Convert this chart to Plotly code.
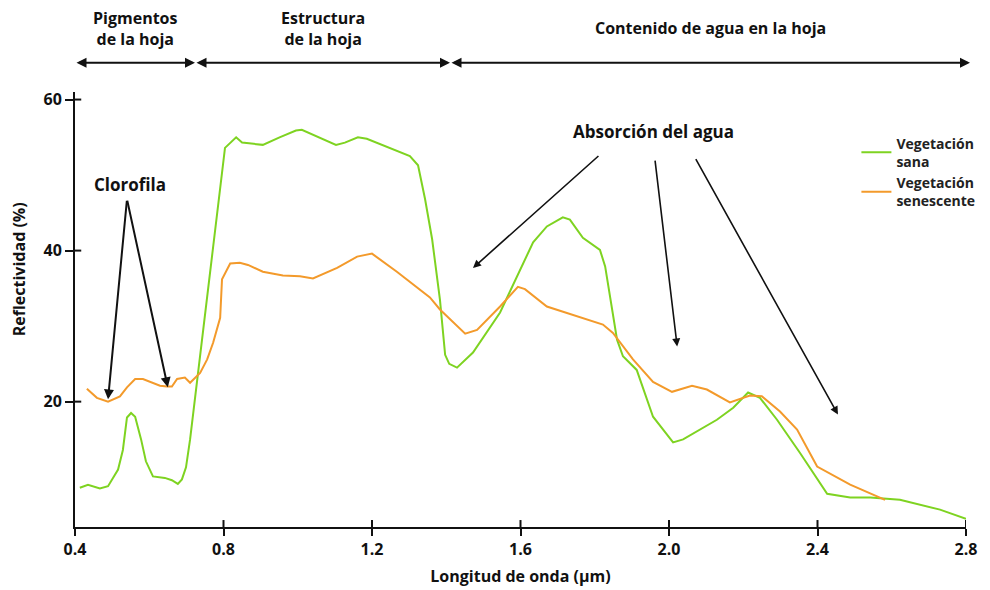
import plotly.graph_objects as go

# Healthy vegetation (Vegetación sana)
sana_x = [0.413, 0.435, 0.467, 0.489, 0.516, 0.529, 0.540, 0.551, 0.562, 0.578, 0.591, 0.610,
          0.642, 0.661, 0.677, 0.688, 0.699, 0.710, 0.804, 0.826, 0.834, 0.850, 0.906, 0.951,
          0.995, 1.011, 1.054, 1.103, 1.127, 1.162, 1.186, 1.235, 1.283, 1.302, 1.324, 1.343,
          1.362, 1.383, 1.397, 1.408, 1.429, 1.472, 1.545, 1.634, 1.671, 1.714, 1.733, 1.768,
          1.814, 1.828, 1.860, 1.876, 1.913, 1.957, 2.011, 2.038, 2.129, 2.173, 2.213, 2.245,
          2.291, 2.353, 2.426, 2.488, 2.542, 2.622, 2.730, 2.800]
sana_y = [8.6, 9.0, 8.5, 8.8, 11.0, 13.6, 17.9, 18.5, 18.0, 15.0, 12.1, 10.1,
          9.9, 9.6, 9.1, 9.7, 11.3, 15.0, 53.6, 54.7, 55.0, 54.3, 54.0, 55.0,
          55.9, 56.0, 55.1, 54.0, 54.3, 55.0, 54.8, 53.8, 52.8, 52.5, 51.3, 46.8,
          41.5, 33.5, 26.2, 25.0, 24.5, 26.5, 31.8, 41.1, 43.2, 44.4, 44.1, 41.7,
          40.1, 37.9, 28.2, 26.0, 24.2, 18.0, 14.6, 15.0, 17.6, 19.2, 21.2, 20.5,
          17.6, 13.2, 7.8, 7.3, 7.3, 7.0, 5.7, 4.5]

# Senescent vegetation (Vegetación senescente)
sen_x = [0.432, 0.459, 0.489, 0.521, 0.540, 0.562, 0.583, 0.607, 0.629, 0.648, 0.661,
         0.675, 0.696, 0.710, 0.737, 0.756, 0.772, 0.791, 0.796, 0.818, 0.844, 0.866,
         0.906, 0.960, 1.006, 1.041, 1.106, 1.160, 1.200, 1.267, 1.356, 1.383, 1.451,
         1.483, 1.545, 1.593, 1.612, 1.671, 1.741, 1.822, 1.849, 1.903, 1.957, 2.008,
         2.062, 2.102, 2.164, 2.218, 2.250, 2.299, 2.345, 2.399, 2.488, 2.582]
sen_y = [21.7, 20.5, 20.0, 20.7, 21.9, 23.0, 23.0, 22.5, 22.1, 22.0, 22.0,
         23.0, 23.2, 22.5, 23.8, 25.6, 27.8, 31.1, 36.2, 38.3, 38.4, 38.1,
         37.2, 36.7, 36.6, 36.3, 37.7, 39.2, 39.6, 37.2, 33.8, 32.2, 29.0,
         29.5, 32.6, 35.2, 34.9, 32.6, 31.5, 30.2, 29.1, 25.6, 22.6, 21.3,
         22.1, 21.6, 19.9, 20.8, 20.7, 18.7, 16.3, 11.4, 9.0, 7.0]

x_ticks = [0.4, 0.8, 1.2, 1.6, 2.0, 2.4, 2.8]
x_tick_labels = ["0.4", "0.8", "1.2", "1.6", "2.0", "2.4", "2.8"]
y_ticks = [20, 40, 60]
y_tick_labels = ["20", "40", "60"]

series_names = ["Vegetación<br>sana", "Vegetación<br>senescente"]
series_colors = ["#7ed321", "#f39a2b"]

region_labels = ["Pigmentos<br>de la hoja", "Estructura<br>de la hoja", "Contenido de agua en la hoja"]
region_bounds = [0.0, 0.1347, 0.4209, 1.0045]  # fraction of x domain

FONT = "Open Sans"

fig = go.Figure()
fig.add_trace(go.Scatter(x=sana_x, y=sana_y, mode="lines", name=series_names[0],
                         line=dict(color=series_colors[0], width=2)))
fig.add_trace(go.Scatter(x=sen_x, y=sen_y, mode="lines", name=series_names[1],
                         line=dict(color=series_colors[1], width=2)))

annotations = []
# Header region labels + double arrows
label_y = [1.147, 1.147, 1.147]
for i, lab in enumerate(region_labels):
    x0, x1 = region_bounds[i], region_bounds[i + 1]
    annotations.append(dict(xref="x domain", yref="y domain", x=(x0 + x1) / 2, y=label_y[i],
                            xanchor="center", yanchor="middle",
                            text="<b>" + lab + "</b>", showarrow=False,
                            font=dict(size=16, color="#111", family=FONT)))
    annotations.append(dict(xref="x domain", yref="y domain", axref="x domain", ayref="y domain",
                            x=x1, y=1.067, ax=x0, ay=1.067, text="", showarrow=True,
                            arrowhead=2, startarrowhead=2, arrowside="end+start",
                            arrowsize=1, arrowwidth=2, arrowcolor="#111"))

# Clorofila
annotations.append(dict(x=0.548, y=48.7, text="<b>Clorofila</b>", showarrow=False,
                        xanchor="center", font=dict(size=17, color="#111", family=FONT)))
for tx, ty in [(0.489, 20.3), (0.650, 21.9)]:
    annotations.append(dict(x=tx, y=ty, ax=0.540, ay=46.8, xref="x", yref="y", axref="x", ayref="y",
                            text="", showarrow=True, arrowhead=2, arrowsize=1, arrowwidth=2,
                            arrowcolor="#111"))

# Absorción del agua
annotations.append(dict(x=1.957, y=55.8, text="<b>Absorción del agua</b>", showarrow=False,
                        xanchor="center", font=dict(size=17, color="#111", family=FONT)))
for (tx, ty), (sx, sy) in [((1.472, 37.7), (1.814, 52.7)),
                           ((2.022, 27.3), (1.962, 52.1)),
                           ((2.455, 18.3), (2.070, 52.3))]:
    annotations.append(dict(x=tx, y=ty, ax=sx, ay=sy, xref="x", yref="y", axref="x", ayref="y",
                            text="", showarrow=True, arrowhead=2, arrowsize=1, arrowwidth=1.6,
                            arrowcolor="#111"))

# Y title
annotations.append(dict(xref="paper", yref="y", x=-0.062, y=37.5, xanchor="center",
                        text="<b>Reflectividad (%)</b>",
                        textangle=-90, showarrow=False, font=dict(size=16, color="#111", family=FONT)))

# Tick crosses (inside part)
shapes = []
for v in x_ticks[1:]:
    shapes.append(dict(type="line", xref="x", yref="y domain", x0=v, x1=v, y0=0, y1=0.016,
                       line=dict(color="#111", width=2)))
for v in y_ticks:
    shapes.append(dict(type="line", xref="x domain", yref="y", x0=0, x1=0.007, y0=v, y1=v,
                       line=dict(color="#111", width=2)))

fig.update_layout(
    width=982, height=582,
    margin=dict(l=67, r=24, t=84, b=63, autoexpand=False),
    paper_bgcolor="white", plot_bgcolor="white",
    font=dict(family=FONT, color="#111"),
    showlegend=True,
    legend=dict(x=0.877, y=0.918, xanchor="left", yanchor="top", bgcolor="rgba(0,0,0,0)",
                font=dict(size=14, family=FONT, color="#222", weight="bold"),
                itemwidth=30, tracegroupgap=10),
    annotations=annotations,
    shapes=shapes,
)
fig.update_xaxes(range=[0.4, 2.8], tickvals=x_ticks, ticktext=x_tick_labels,
                 showgrid=False, zeroline=False, showline=True, linecolor="#111", linewidth=2,
                 ticks="outside", ticklen=7, tickwidth=2, tickcolor="#111",
                 tickfont=dict(size=16, family=FONT, color="#111", weight="bold"),
                 title=dict(text="<b>Longitud de onda (µm)</b>", font=dict(size=16, family=FONT), standoff=12))
fig.update_yaxes(range=[3.4, 61], tickvals=y_ticks, ticktext=y_tick_labels,
                 showgrid=False, zeroline=False, showline=True, linecolor="#111", linewidth=2,
                 ticks="outside", ticklen=8, tickwidth=2, tickcolor="#111",
                 tickfont=dict(size=16, family=FONT, color="#111", weight="bold"))

fig.write_html("out.html")
